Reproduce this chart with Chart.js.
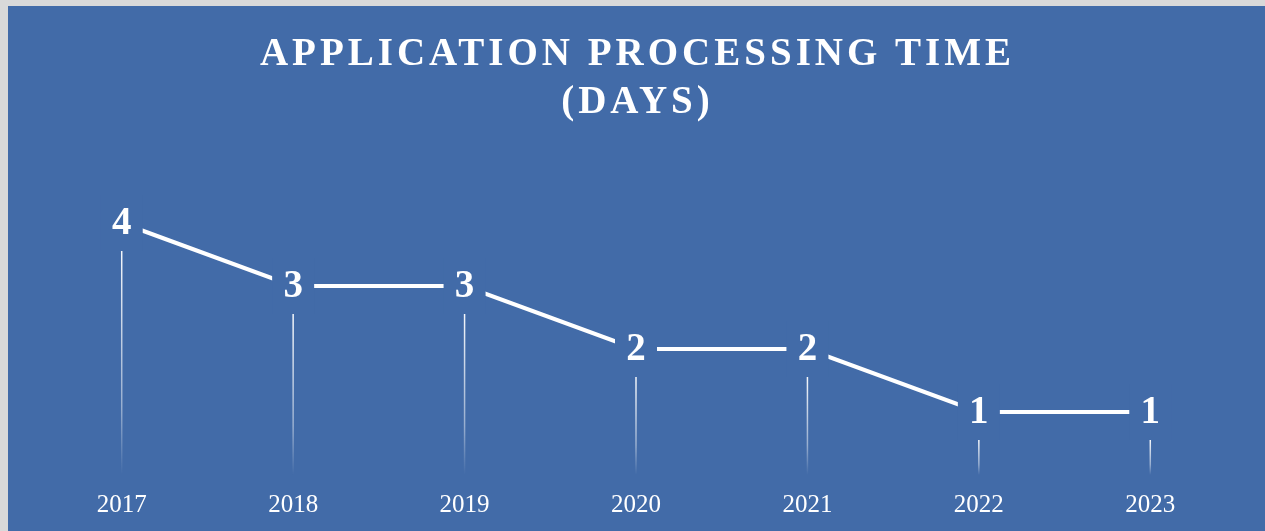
<!DOCTYPE html>
<html>
<head>
<meta charset="utf-8">
<script src="https://cdn.jsdelivr.net/npm/chart.js@4"></script>
<style>
  html, body { margin: 0; padding: 0; background: #d9d9d9; }
  #wrap { position: absolute; left: 8px; top: 6px; width: 1257px; height: 525px; background: #426ba8; }
</style>
</head>
<body>
<div id="wrap"><canvas id="procChart" width="1257" height="525"></canvas></div>
<script>
// chart data
const years = ['2017', '2018', '2019', '2020', '2021', '2022', '2023'];
const days = [4, 3, 3, 2, 2, 1, 1];
const titleLines = ['APPLICATION PROCESSING TIME', '(DAYS)'];

const bgBlue = '#426ba8';
const serif = '"Liberation Serif", "DejaVu Serif", serif';

// title with letter spacing (chart.js title has no letterSpacing)
const titlePlugin = {
    id: 'spacedTitle',
    afterDraw(chart) {
        const c = chart.ctx;
        c.save();
        c.fillStyle = '#fff';
        c.font = 'bold 39px ' + serif;
        c.letterSpacing = '4px';
        c.textAlign = 'center';
        c.textBaseline = 'middle';
        c.fillText(titleLines[0], chart.width / 2 + 1, 49);
        c.fillText(titleLines[1], chart.width / 2 + 1, 97);
        c.restore();
    }
};

// faded drop lines from each point to the axis
const dropLines = {
    id: 'dropLines',
    beforeDatasetsDraw(chart) {
        const c = chart.ctx;
        const meta = chart.getDatasetMeta(0);
        const bottom = chart.scales.y.getPixelForValue(0);
        c.save();
        meta.data.forEach(pt => {
            const top = pt.y + 28;
            const g = c.createLinearGradient(0, top, 0, bottom);
            g.addColorStop(0, 'rgba(255,255,255,0.95)');
            g.addColorStop(0.7, 'rgba(255,255,255,0.45)');
            g.addColorStop(1, 'rgba(255,255,255,0)');
            c.strokeStyle = g;
            c.lineWidth = 1.5;
            c.beginPath();
            c.moveTo(pt.x, top);
            c.lineTo(pt.x, bottom);
            c.stroke();
        });
        c.restore();
    }
};

// value labels sitting on the points, with a blue box that cuts the line
const valueLabels = {
    id: 'valueLabels',
    afterDatasetsDraw(chart) {
        const c = chart.ctx;
        const meta = chart.getDatasetMeta(0);
        c.save();
        c.font = 'bold 39px ' + serif;
        c.textAlign = 'center';
        c.textBaseline = 'middle';
        meta.data.forEach((pt, i) => {
            c.fillStyle = bgBlue;
            c.fillRect(pt.x - 21, pt.y - 28, 42, 56);
            c.fillStyle = '#fff';
            c.fillText(String(days[i]), pt.x, pt.y + 1);
        });
        c.restore();
    }
};

const ctx = document.getElementById('procChart').getContext('2d');
new Chart(ctx, {
    type: 'line',
    data: {
        labels: years,
        datasets: [{
            label: 'Days',
            data: days,
            borderColor: '#ffffff',
            borderWidth: 4,
            pointRadius: 0,
            tension: 0
        }]
    },
    options: {
        responsive: false,
        animation: false,
        layout: { padding: { left: 28, right: 29, top: 154, bottom: 12 } },
        plugins: {
            legend: { display: false },
            title: { display: false },
            tooltip: { enabled: false }
        },
        scales: {
            x: {
                offset: true,
                grid: { display: false, drawTicks: false },
                border: { display: false },
                ticks: {
                    color: '#ffffff',
                    padding: 15,
                    font: { family: serif, size: 25 }
                },
                afterFit(scale) { scale.height = 44; }
            },
            y: {
                display: false,
                min: 0,
                max: 5
            }
        }
    },
    plugins: [dropLines, valueLabels, titlePlugin]
});
</script>
</body>
</html>
